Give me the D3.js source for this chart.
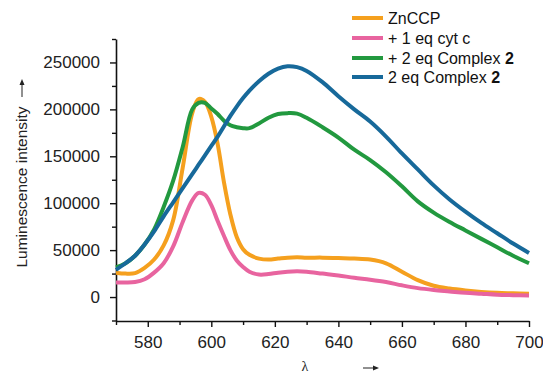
<!DOCTYPE html>
<html><head><meta charset="utf-8">
<script src="https://cdn.jsdelivr.net/npm/d3@7"></script>
<style>
body{margin:0;background:#fff;}
svg{display:block;font-family:"Liberation Sans",Arial,sans-serif;}
</style></head><body>
<svg id="c" width="543" height="376"></svg>
<script>
const wavelength = [570,573,576,579,582,585,588,591,594,596,598,600,602,604,606,608,610,612,615,618,621,624,627,630,635,640,645,650,655,660,665,670,675,680,685,690,695,700];
const znccp   = [26000,25000,25500,31000,40000,55000,82000,138000,196000,211000,208000,192000,163000,122000,88000,64000,51000,45000,41000,40000,41000,42000,42500,42000,42000,41500,41000,40000,36000,27000,18000,12000,9000,7000,5500,4500,4000,3500];
const cytc    = [15500,15500,16000,19000,26000,36000,54000,80000,103000,111000,109000,98000,81000,65000,50000,39000,32000,27000,24000,24500,26000,27000,27500,27000,25000,23000,20500,18500,16000,12500,9500,7500,6000,4500,3500,2500,2000,1600];
const plusComplex = [31500,36000,44000,56000,72000,96000,124000,160000,200000,207000,207000,201000,195000,188000,183000,181000,180000,180000,185000,191000,195000,196000,195500,191000,181000,170000,157000,146000,133000,118000,102000,90000,80000,71000,62000,53000,44000,36000];
const complexOnly = [29000,36000,44000,56000,70000,86000,101000,116000,131000,141000,151000,161000,171000,182000,193000,203000,212000,220000,230000,238000,243500,246000,245000,241000,229000,214000,200000,187000,171000,153000,136000,119000,104000,91000,79000,68000,57000,47000];

const seriesNames = ["ZnCCP","+ 1 eq cyt c","+ 2 eq Complex ","2 eq Complex "];
const seriesBold = ["","","2","2"];
const seriesColors = ["#F5A01E","#E8649F","#22993F","#17699A"];
const seriesValues = [znccp, cytc, plusComplex, complexOnly];

const xTicks = [580,600,620,640,660,680,700];
const xMinor = [570,590,610,630,650,670,690];
const yTicks = [0,50000,100000,150000,200000,250000];
const yMinor = [-25000,25000,75000,125000,175000,225000,275000];

const svg = d3.select("#c");
const x = d3.scaleLinear().domain([570,700]).range([116,529]);
const y = d3.scaleLinear().domain([-25000,275000]).range([320.5,39]);

// axes
const gx = svg.append("g").attr("transform","translate(0,321)");
gx.call(d3.axisBottom(x).tickValues(xTicks).tickSize(6).tickSizeOuter(0).tickFormat(d3.format("d")));
const gxm = svg.append("g").attr("transform","translate(0,321)");
gxm.call(d3.axisBottom(x).tickValues(xMinor).tickSize(4).tickSizeOuter(0).tickFormat(""));
gxm.select(".domain").remove();

const gy = svg.append("g").attr("transform","translate(116,0)");
gy.call(d3.axisLeft(y).tickValues(yTicks).tickSize(6).tickSizeOuter(0).tickFormat(d3.format("d")));
const gym = svg.append("g").attr("transform","translate(116,0)");
gym.call(d3.axisLeft(y).tickValues(yMinor).tickSize(4).tickSizeOuter(0).tickFormat(""));
gym.select(".domain").remove();

svg.selectAll(".domain").attr("stroke","#111").attr("stroke-width",1.6);
svg.selectAll(".tick line").attr("stroke","#111").attr("stroke-width",1.4);
gx.selectAll(".tick text").attr("font-size",17).attr("fill","#222").attr("dy","1.05em").attr("font-family","Liberation Sans, Arial, sans-serif");
gy.selectAll(".tick text").attr("font-size",17).attr("fill","#222").attr("x",-16).attr("font-family","Liberation Sans, Arial, sans-serif");

// lines
const line = d3.line().x((d,i)=>x(wavelength[i])).y(d=>y(d)).curve(d3.curveCatmullRom.alpha(0.5));
seriesValues.forEach((vals,k)=>{
  svg.append("path").datum(vals).attr("d",line)
    .attr("fill","none").attr("stroke",seriesColors[k]).attr("stroke-width",4).attr("stroke-linejoin","round");
});

// legend
const legY = [18,38,58,77];
seriesNames.forEach((n,k)=>{
  svg.append("line").attr("x1",352).attr("x2",383).attr("y1",legY[k]).attr("y2",legY[k])
    .attr("stroke",seriesColors[k]).attr("stroke-width",4);
  const t = svg.append("text").attr("x",388).attr("y",legY[k]+5.5).attr("font-size",16).attr("fill","#111");
  t.append("tspan").text(n);
  if (seriesBold[k]) t.append("tspan").attr("font-weight","bold").text(seriesBold[k]);
});

// y label
svg.append("text").attr("transform","translate(27,187) rotate(-90)").attr("text-anchor","middle")
  .attr("font-size",15.5).attr("fill","#222").text("Luminescence intensity");
svg.append("line").attr("x1",22).attr("x2",22).attr("y1",97).attr("y2",82).attr("stroke","#222").attr("stroke-width",1);
svg.append("path").attr("d","M22,79 L19.5,85 L24.5,85 Z").attr("fill","#222");

// x label
svg.append("text").attr("x",305).attr("y",371).attr("text-anchor","middle").attr("font-size",14)
  .attr("fill","#222").attr("font-family","Liberation Serif, serif").text("λ");
svg.append("line").attr("x1",363).attr("x2",375).attr("y1",368).attr("y2",368).attr("stroke","#222").attr("stroke-width",1);
svg.append("path").attr("d","M379,368 L373,365.5 L373,370.5 Z").attr("fill","#222");
</script>
</body></html>
